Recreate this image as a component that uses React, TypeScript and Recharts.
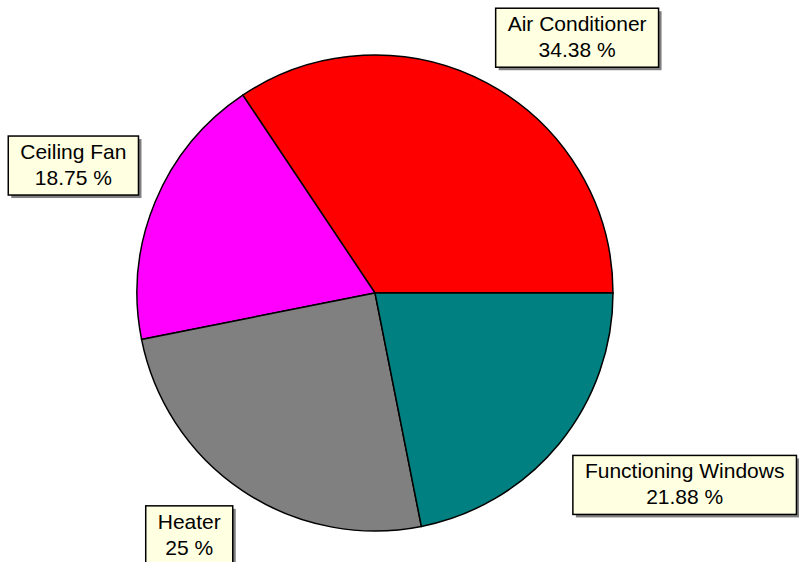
import { PieChart, Pie, Cell } from 'recharts'

const categories = ['Air Conditioner', 'Ceiling Fan', 'Heater', 'Functioning Windows']
const percents = [34.38, 18.75, 25, 21.88]
const colors = ['#FF0000', '#FF00FF', '#808080', '#008080']

const data = categories.map((name, i) => ({ name, value: percents[i] }))

const FONT = "21px 'Liberation Sans', Arial, sans-serif"
const RAD = Math.PI / 180

let ctx: CanvasRenderingContext2D | null = null
function textWidth(s: string) {
  if (!ctx) ctx = document.createElement('canvas').getContext('2d')
  if (!ctx) return s.length * 10
  ctx.font = FONT
  return ctx.measureText(s).width
}

function BoxLabel(props: any) {
  const { cx, cy, midAngle, outerRadius, name, value } = props
  const r = outerRadius + 18
  const ax = cx + r * Math.cos(-midAngle * RAD)
  const ay = cy + r * Math.sin(-midAngle * RAD)
  const line2 = `${value} %`
  const w = Math.max(textWidth(name), textWidth(line2)) + 24
  const h = 59
  // box corner sits on the anchor, box extends away from the pie
  const x = Math.cos(-midAngle * RAD) >= 0 ? ax : ax - w
  const y = Math.sin(-midAngle * RAD) >= 0 ? ay : ay - h
  return (
    <g>
      <rect x={x + 3} y={y + 3} width={w} height={h} fill="#606060" opacity={0.8} />
      <rect x={x} y={y} width={w} height={h} fill="#FFFFE1" stroke="#000" strokeWidth={1.5} />
      <text x={x + w / 2} y={y + 23} textAnchor="middle" fill="#000"
        style={{ font: FONT }}>{name}</text>
      <text x={x + w / 2} y={y + 49} textAnchor="middle" fill="#000"
        style={{ font: FONT }}>{line2}</text>
    </g>
  )
}

export default function App() {
  return (
    <div style={{ position: 'absolute', left: 0, top: 0, width: 799, height: 562, background: '#fff' }}>
      <PieChart width={799} height={562}>
        <Pie
          data={data}
          dataKey="value"
          nameKey="name"
          cx={370}
          cy={288}
          outerRadius={238}
          startAngle={0}
          endAngle={360}
          stroke="#000"
          strokeWidth={1.5}
          label={BoxLabel}
          labelLine={false}
          isAnimationActive={false}
        >
          {data.map((d, i) => (
            <Cell key={d.name} fill={colors[i]} />
          ))}
        </Pie>
      </PieChart>
    </div>
  )
}
